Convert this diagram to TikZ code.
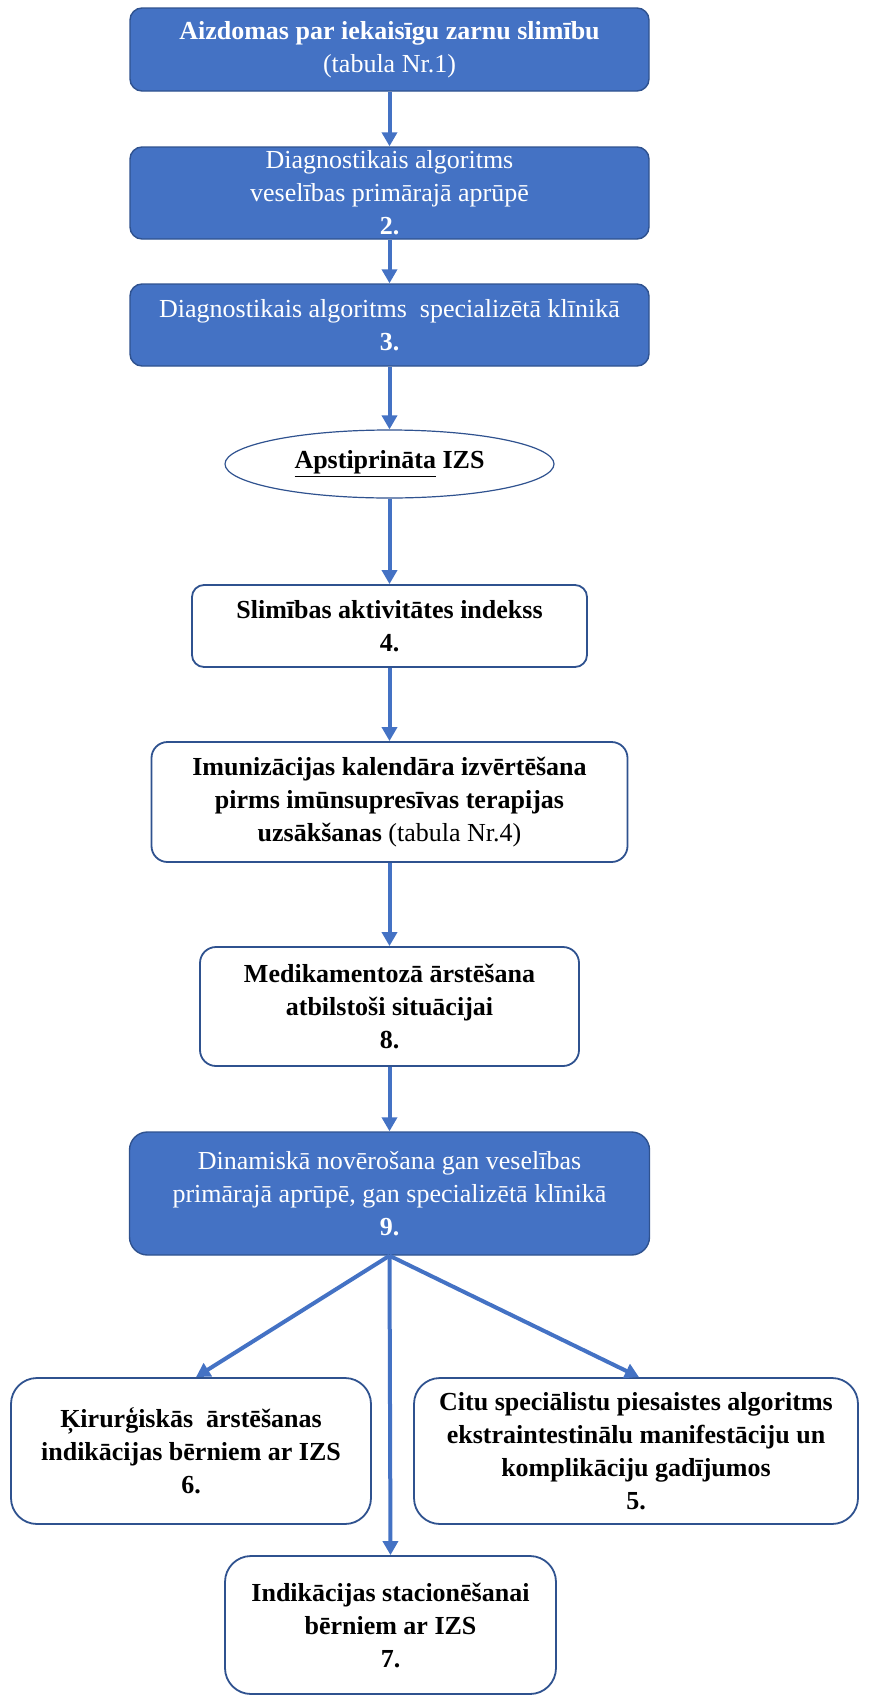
\documentclass[tikz,border=0pt]{standalone}
\usepackage{fontspec}
\setmainfont{Liberation Serif}
\usetikzlibrary{arrows.meta,shapes.geometric}
\definecolor{boxblue}{HTML}{4472C4}
\definecolor{edgeblue}{HTML}{2F528F}
\begin{document}
\begin{tikzpicture}[x=0.5pt, y=-0.5pt, >={Triangle[length=7pt,width=7.5pt]},
    font=\fontsize{13}{16.5}\selectfont,
    bluebox/.style={draw=edgeblue, line width=0.7pt, fill=boxblue, text=white,
        rounded corners=6pt, align=center, inner sep=0pt},
    whitebox/.style={draw=edgeblue, line width=0.9pt, fill=white,
        rounded corners=8pt, align=center, inner sep=0pt},
    flow/.style={->, boxblue, line width=2pt}]
\useasboundingbox (0,0) rectangle (869,1697);
% upper chain
\node[bluebox, minimum width=259.5pt, minimum height=41.5pt] (aizd) at (389.5,49.5)
    {\textbf{Aizdomas par iekaisīgu zarnu slimību}\\(tabula Nr.1)};
\node[bluebox, minimum width=259.5pt, minimum height=46pt] (prim) at (389.5,193)
    {Diagnostikais algoritms\\veselības primārajā aprūpē\\\textbf{2.}};
\node[bluebox, minimum width=259.5pt, minimum height=41pt] (spec) at (389.5,325)
    {Diagnostikais algoritms\ \ specializētā klīnikā\\\textbf{3.}};
\node[ellipse, draw=edgeblue, line width=0.6pt, minimum width=164.5pt, minimum height=34pt,
    inner sep=0pt] (izs) at (389.5,464) {\textbf{\underline{Apstiprināta} IZS}};
\node[whitebox, rounded corners=6pt, minimum width=197.5pt, minimum height=41pt] (index) at (389.5,626)
    {\textbf{Slimības aktivitātes indekss}\\\textbf{4.}};
\node[whitebox, minimum width=238pt, minimum height=60pt] (imun) at (389.5,802)
    {\textbf{Imunizācijas kalendāra izvērtēšana}\\\textbf{pirms imūnsupresīvas terapijas}\\\textbf{uzsākšanas} (tabula Nr.4)};
\node[whitebox, minimum width=189.5pt, minimum height=59.5pt] (medik) at (389.5,1006.5)
    {\textbf{Medikamentozā ārstēšana}\\\textbf{atbilstoši situācijai}\\\textbf{8.}};
\node[bluebox, rounded corners=9pt, minimum width=260pt, minimum height=61.5pt] (dinam) at (389.5,1193.5)
    {Dinamiskā novērošana gan veselības\\primārajā aprūpē, gan specializētā klīnikā\\\textbf{9.}};
% branches
\node[whitebox, rounded corners=13pt, minimum width=180pt, minimum height=73pt] (kirurg) at (191,1451)
    {\textbf{Ķirurģiskās\ \ ārstēšanas}\\\textbf{indikācijas bērniem ar IZS}\\\textbf{6.}};
\node[whitebox, rounded corners=13pt, minimum width=222pt, minimum height=73pt] (citu) at (636,1451)
    {\textbf{Citu speciālistu piesaistes algoritms}\\\textbf{ekstraintestinālu manifestāciju un}\\\textbf{komplikāciju gadījumos}\\\textbf{5.}};
\node[whitebox, rounded corners=13pt, minimum width=165.5pt, minimum height=69pt] (stac) at (390.5,1625)
    {\textbf{Indikācijas stacionēšanai}\\\textbf{bērniem ar IZS}\\\textbf{7.}};
\draw[flow] (aizd) -- (prim);
\draw[flow] (prim) -- (spec);
\draw[flow] (spec) -- (izs);
\draw[flow] (izs) -- (index);
\draw[flow] (index) -- (imun);
\draw[flow] (imun) -- (medik);
\draw[flow] (medik) -- (dinam);
\draw[flow] (dinam.south) -- ([xshift=2.5pt]kirurg.north);
\draw[flow] (dinam.south) -- (stac.north);
\draw[flow] (dinam.south) -- ([xshift=1.5pt]citu.north);
\end{tikzpicture}
\end{document}
